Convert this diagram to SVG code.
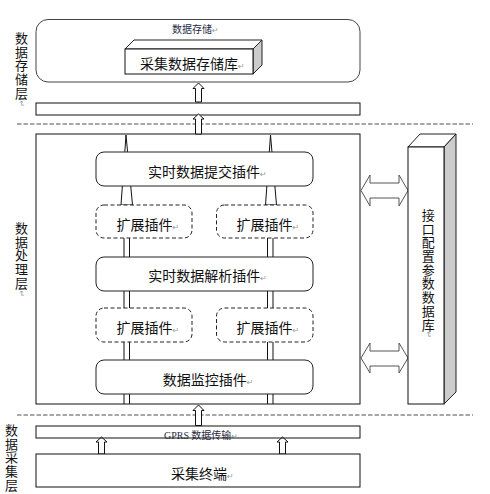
<svg xmlns="http://www.w3.org/2000/svg" width="490" height="494" viewBox="0 0 490 494">
<style>
.box{fill:#fff;stroke:#111;stroke-width:1}
.rbox{fill:#fff;stroke:#222;stroke-width:1}
.dbox{fill:#fff;stroke:#222;stroke-width:1;stroke-dasharray:4 2.5}
.sep{stroke:#8a8a8a;stroke-width:1.5;stroke-dasharray:4.5 2}
.harrow{fill:#fff;stroke:#111;stroke-width:1}
.darrow{fill:#fff;stroke:#555;stroke-width:1}
.ln{stroke:#111;stroke-width:1;fill:none}
.t{font-family:"Noto Sans CJK SC","Liberation Sans",sans-serif;font-size:14px;fill:#111}
.v{font-family:"Noto Sans CJK SC","Liberation Sans",sans-serif;font-size:13px;fill:#111;writing-mode:vertical-rl;letter-spacing:0.7px}
.s{font-family:"Noto Sans CJK SC","Liberation Sans",sans-serif;font-size:10px;fill:#2a2a44}
.pm{font-family:"DejaVu Sans",sans-serif;font-size:8px;fill:#999}
.side{fill:#ccc;stroke:#222;stroke-width:1}
</style>
<rect width="490" height="494" fill="#fff"/>

<g id="separators">
<line class="sep" x1="17" y1="124" x2="473" y2="124"/>
<line class="sep" x1="17" y1="415" x2="473" y2="415"/>
</g>

<g id="layer-labels">
<text class="v" x="21.5" y="31.5">数据存储层<tspan class="pm">↵</tspan></text>
<text class="v" x="21.5" y="221.5">数据处理层<tspan class="pm">↵</tspan></text>
<text class="v" x="11.5" y="423.5">数据采集层</text>
</g>

<g id="storage">
<rect x="36" y="19.5" width="324" height="62.5" rx="12" fill="#fff" stroke="#444"/>
<text class="s" x="172" y="33">数据存储<tspan class="pm">↵</tspan></text>
</g>
<g id="storage-db">
<polygon points="125,49 134,40 262,40 253,49" fill="#fff" stroke="#222"/>
<polygon class="side" points="253,49 262,40 262,65 253,74"/>
<rect class="box" x="125" y="49" width="128" height="25"/>
<text class="t" x="140" y="69">采集数据存储库<tspan class="pm" font-size="9">↵</tspan></text>
</g>
<g id="storage-bar">
<rect class="box" x="36" y="103" width="324" height="12"/>
</g>

<g id="processing">
<rect class="box" x="36" y="134" width="324" height="270"/>
</g>

<g id="connectors">
<polygon class="harrow" points="126,135 121,205 132.5,205"/>
<polygon class="harrow" points="270.5,135 265.5,205 276.5,205"/>
<path class="ln" d="M124,238V257M129.5,238V257M267.5,238V257M273,238V257"/>
<path class="ln" d="M124,291V308M129.5,291V308M267.5,291V308M273,291V308"/>
<path class="ln" d="M124,342V360M129.5,342V360M267.5,342V360M273,342V360"/>
<path class="ln" d="M124,394V404M129.5,394V404M267.5,394V404M273,394V404"/>
<path class="harrow" d="M198.5,83 L204,88.5 L201.5,88.5 L201.5,102 L195.5,102 L195.5,88.5 L193,88.5 Z"/>
<path class="harrow" d="M198.5,114 L204,119 L201.5,119 L201.5,134 L195.5,134 L195.5,119 L193,119 Z"/>
<path class="harrow" d="M198.5,405 L204,410.5 L201.5,410.5 L201.5,425.5 L195.5,425.5 L195.5,410.5 L193,410.5 Z"/>
<path class="harrow" d="M101.5,437 L107,442 L104.5,442 L104.5,454 L98.5,454 L98.5,442 L96,442 Z"/>
<path class="harrow" d="M282.5,437 L288,442 L285.5,442 L285.5,454 L279.5,454 L279.5,442 L277,442 Z"/>
<path class="darrow" d="M361,190.5 L370,175 L370,183 L399,183 L399,175 L408,190.5 L399,206 L399,198 L370,198 L370,206 Z"/>
<path class="darrow" d="M361,358 L370,343 L370,351 L399,351 L399,343 L408,358 L399,373 L399,366 L370,366 L370,373 Z"/>
</g>

<g id="submit-plugin">
<rect class="rbox" x="96" y="152" width="217" height="34" rx="8"/>
<text class="t" x="148" y="176.5">实时数据提交插件<tspan class="pm" font-size="9">↵</tspan></text>
</g>
<g id="ext-1">
<rect class="dbox" x="96" y="205" width="96" height="33" rx="8"/>
<text class="t" x="116.5" y="229.5">扩展插件<tspan class="pm" font-size="9">↵</tspan></text>
</g>
<g id="ext-2">
<rect class="dbox" x="216.5" y="205" width="96.5" height="33" rx="8"/>
<text class="t" x="236.5" y="229.5">扩展插件<tspan class="pm" font-size="9">↵</tspan></text>
</g>
<g id="parse-plugin">
<rect class="rbox" x="96" y="257" width="217" height="34" rx="8"/>
<text class="t" x="148.3" y="281">实时数据解析插件<tspan class="pm" font-size="9">↵</tspan></text>
</g>
<g id="ext-3">
<rect class="dbox" x="96" y="308" width="96" height="34" rx="8"/>
<text class="t" x="116.5" y="333">扩展插件<tspan class="pm" font-size="9">↵</tspan></text>
</g>
<g id="ext-4">
<rect class="dbox" x="216.5" y="308" width="96.5" height="34" rx="8"/>
<text class="t" x="236.5" y="333">扩展插件<tspan class="pm" font-size="9">↵</tspan></text>
</g>
<g id="monitor-plugin">
<rect class="rbox" x="96" y="360" width="217" height="34" rx="8"/>
<text class="t" x="162.7" y="385">数据监控插件<tspan class="pm" font-size="9">↵</tspan></text>
</g>

<g id="config-db">
<polygon points="408,147 420,134 456,134 444,147" fill="#fff" stroke="#222"/>
<polygon class="side" points="444,147 456,134 456,392 444,404"/>
<rect class="box" x="408" y="147" width="36" height="257"/>
<text class="v" x="428.3" y="208.5">接口配置参数数据库<tspan class="pm">↵</tspan></text>
</g>

<g id="gprs-bar">
<text class="s" x="164" y="438.5"><tspan font-family="Liberation Serif,serif">GPRS</tspan> 数据传输<tspan class="pm">↵</tspan></text>
<rect x="36" y="426" width="324" height="12" fill="none" stroke="#111"/>
</g>

<g id="terminal">
<rect class="box" x="36" y="454" width="324" height="33"/>
<text class="t" x="171" y="478.5">采集终端<tspan class="pm" font-size="9">↵</tspan></text>
</g>
</svg>
